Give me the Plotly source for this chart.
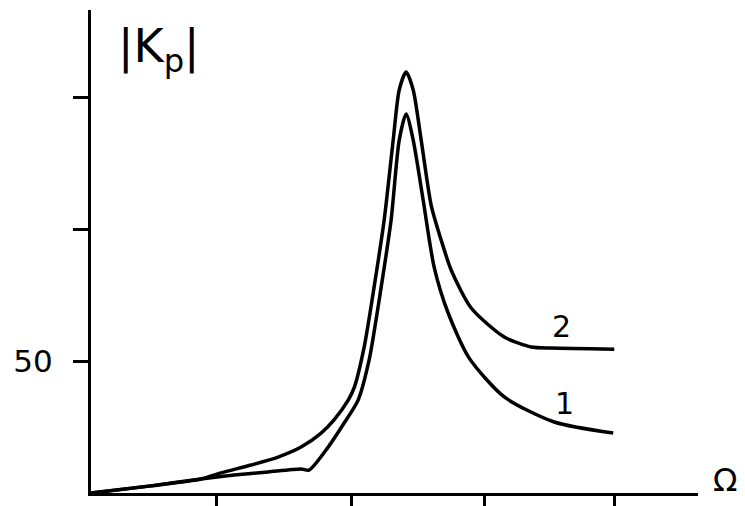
import plotly.graph_objects as go

# Curve 1 (lower) and curve 2 (upper): Omega (tick units) vs |K_p|
omega_1 = [0.0, 0.459, 0.841, 1.094, 1.354, 1.606, 1.667, 1.813, 1.935, 2.042, 2.126, 2.218,
           2.294, 2.356, 2.409, 2.463, 2.539, 2.623, 2.730, 2.891, 3.159, 3.541, 3.992]
kp_1 = [0.0, 2.7, 5.3, 6.8, 8.0, 9.1, 8.7, 17.4, 26.5, 35.2, 50.4, 78.0,
        103.4, 133.7, 143.6, 133.7, 111.0, 85.6, 68.2, 51.1, 36.4, 26.9, 22.7]

omega_2 = [0.0, 0.459, 0.841, 0.994, 1.224, 1.430, 1.606, 1.759, 1.858, 1.966, 2.011, 2.088,
           2.164, 2.241, 2.310, 2.356, 2.409, 2.463, 2.524, 2.600, 2.677, 2.753,
           2.906, 3.159, 3.365, 3.518, 4.0]
kp_2 = [0.0, 2.7, 5.3, 7.6, 10.6, 13.6, 17.4, 22.7, 27.7, 35.2, 39.8, 55.3,
        78.0, 103.4, 133.7, 152.7, 159.5, 152.7, 133.7, 109.1, 95.8, 84.5,
        70.1, 59.1, 55.3, 54.9, 54.5]

x_ticks = [0.956, 1.989, 3.006, 4.0]
y_ticks = [50, 100, 150]
y_tick_text = ["50", " ", " "]

FONT = "DejaVu Sans"

fig = go.Figure()
for xs, ys in [(omega_1, kp_1), (omega_2, kp_2)]:
    fig.add_trace(go.Scatter(
        x=xs, y=ys, mode="lines",
        line=dict(color="black", width=3.5, shape="spline", smoothing=0.7),
        showlegend=False, hoverinfo="skip"))

fig.update_layout(
    width=745, height=506,
    margin=dict(l=83, r=55, t=2, b=21, autoexpand=False),
    paper_bgcolor="white", plot_bgcolor="white",
    font=dict(family=FONT, color="black"),
    xaxis=dict(range=[0, 4.64], showgrid=False, zeroline=False, automargin=False,
               showline=True, linecolor="black", linewidth=3,
               tickvals=x_ticks, showticklabels=False,
               ticks="outside", ticklen=11, tickwidth=3, tickcolor="black"),
    yaxis=dict(range=[0, 183], showgrid=False, zeroline=False, automargin=False,
               showline=True, linecolor="black", linewidth=3,
               tickvals=y_ticks, ticktext=y_tick_text,
               ticks="outside", ticklen=15, tickwidth=3, tickcolor="black",
               tickfont=dict(family=FONT, size=31, color="black"),
               ticklabelstandoff=14),
    annotations=[
        dict(text="|K<sub>p</sub>|", x=0.52, y=168, xref="x", yref="y",
             xanchor="center", yanchor="middle",
             showarrow=False, font=dict(family=FONT, size=46, color="black")),
        dict(text="2", x=3.595, y=62.9, xref="x", yref="y",
             xanchor="center", yanchor="middle",
             showarrow=False, font=dict(family=FONT, size=30, color="black")),
        dict(text="1", x=3.618, y=34.1, xref="x", yref="y",
             xanchor="center", yanchor="middle",
             showarrow=False, font=dict(family=FONT, size=30, color="black")),
        dict(text="Ω", x=1.044, y=0.027, xref="paper", yref="paper",
             xanchor="center", yanchor="middle",
             showarrow=False, font=dict(family=FONT, size=32, color="black")),
    ],
)

fig.write_html("out.html")
